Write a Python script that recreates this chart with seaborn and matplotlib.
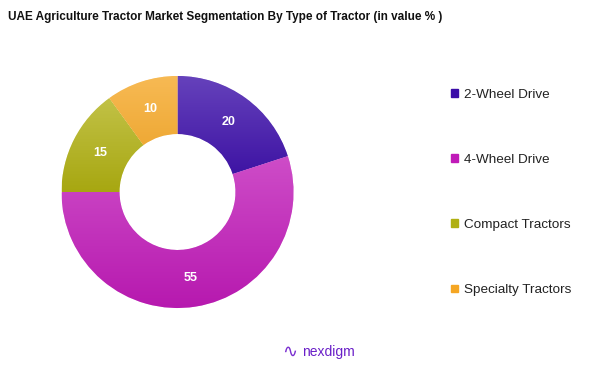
import matplotlib
matplotlib.use("Agg")
import matplotlib.pyplot as plt
import matplotlib.colors as mcolors
import numpy as np
import seaborn as sns

categories = ["2-Wheel Drive", "4-Wheel Drive", "Compact Tractors", "Specialty Tractors"]
values = [20, 55, 15, 10]
colors = ["#3a0ca8", "#c01ab8", "#b0b012", "#f5a623"]
title = "UAE Agriculture Tractor Market Segmentation By Type of Tractor (in value % )"

sns.set_theme(style="white")
plt.rcParams['font.family'] = ['Liberation Sans', 'DejaVu Sans']

fig = plt.figure(figsize=(6.02, 3.69), dpi=100)
R = 116
cx, cy = 177.5, 369 - 192
ax = fig.add_axes([(cx - R) / 602, (cy - R) / 369, 2 * R / 602, 2 * R / 369])
palette = sns.color_palette(colors)
wedges, texts, autotexts = ax.pie(
    values, colors=palette, startangle=90, counterclock=False,
    radius=1, wedgeprops=dict(width=0.5, edgecolor="white", linewidth=0.4),
    autopct=lambda p: f"{p:.0f}", pctdistance=0.75,
    textprops=dict(color="white", fontsize=9, fontweight="bold"))
ax.set_xlim(-1, 1)
ax.set_ylim(-1, 1)
ax.set_aspect("equal")
ax.axis("off")

# vertical gradient shading per wedge
for w, c in zip(wedges, colors):
    verts = w.get_path().vertices
    x0, x1 = verts[:, 0].min(), verts[:, 0].max()
    y0, y1 = verts[:, 1].min(), verts[:, 1].max()
    base = np.array(mcolors.to_rgb(c))
    top = base + (1 - base) * 0.22
    bot = base * 0.95
    t = np.linspace(0, 1, 64)[:, None]
    grad = top[None, :] * (1 - t) + bot[None, :] * t
    img = np.repeat(grad[:, None, :], 2, axis=1)
    im = ax.imshow(img, extent=(x0, x1, y0, y1), origin="upper", aspect="auto", zorder=1.5)
    im.set_clip_path(w)
for t_ in autotexts:
    t_.set_zorder(3)

fig.text(8 / 602, 1 - 17 / 369, title, fontsize=8.5, fontweight="bold", ha="left", va="center", color="#111111")

handles = [plt.Rectangle((0, 0), 1, 1, color=c) for c in colors]
fig.legend(handles, categories, loc="upper left", bbox_to_anchor=(451 / 602, 1 - 88.5 / 369),
           frameon=False, fontsize=9.7, handlelength=0.5, handleheight=0.5, handletextpad=0.45,
           labelspacing=3.95, borderaxespad=0, borderpad=0, labelcolor="#222222")

fig.text(290 / 602, 1 - 352 / 369, "∿", fontsize=13, color="#7a2fd0", ha="center", va="center")
fig.text(302 / 602, 1 - 352 / 369, "nexdigm", fontsize=10, color="#6a1fc8", ha="left", va="center")

fig.savefig("out.png", dpi=100)
